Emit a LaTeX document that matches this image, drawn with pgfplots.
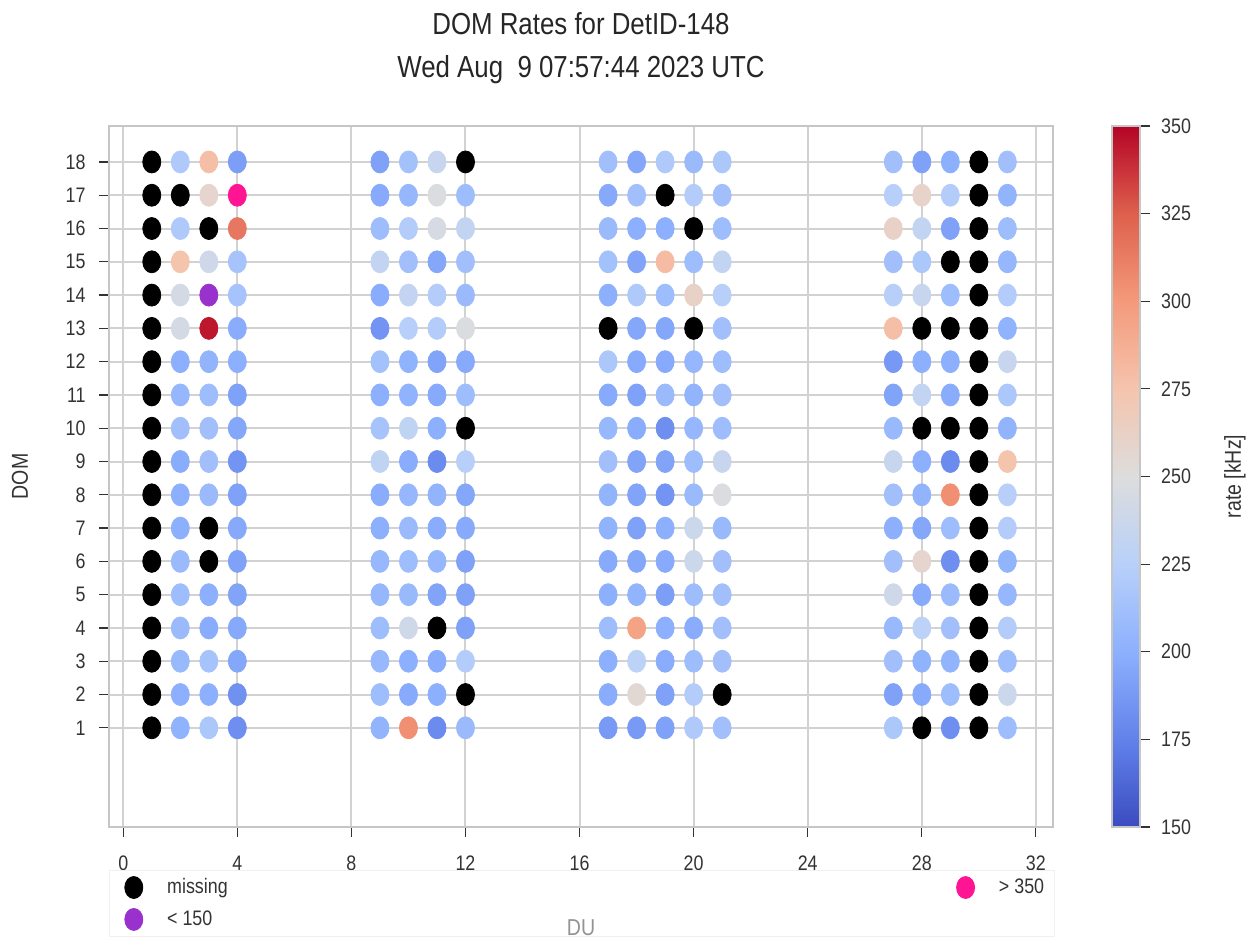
\documentclass[border=0pt]{standalone}
\usepackage{pgfplots}
\pgfplotsset{compat=1.18}
\usepackage{fontspec}
\setmainfont{Liberation Sans}[FakeStretch=0.85]
\definecolor{txt}{HTML}{333333}
\definecolor{dpink}{RGB}{255,20,147}
\definecolor{dpurple}{RGB}{153,50,204}
\pgfplotstableread{
x y v
2 18 220
2 16 220
2 15 275
2 14 243
2 13 243
2 12 200
2 11 205
2 10 212
2 9 198
2 8 200
2 7 200
2 6 208
2 5 210
2 4 208
2 3 207
2 2 200
2 1 202
3 18 278
3 17 258
3 15 240
3 13 345
3 12 203
3 11 210
3 10 212
3 9 212
3 8 208
3 5 200
3 4 198
3 3 215
3 2 200
3 1 218
4 18 190
4 16 315
4 15 215
4 14 215
4 13 198
4 12 200
4 11 192
4 10 195
4 9 185
4 8 192
4 7 196
4 6 192
4 5 193
4 4 196
4 3 195
4 2 183
4 1 182
9 18 192
9 17 197
9 16 210
9 15 232
9 14 198
9 13 185
9 12 213
9 11 200
9 10 215
9 9 230
9 8 198
9 7 200
9 6 206
9 5 205
9 4 210
9 3 206
9 2 210
9 1 203
10 18 213
10 17 205
10 16 222
10 15 212
10 14 232
10 13 225
10 12 202
10 11 202
10 10 230
10 9 198
10 8 205
10 7 208
10 6 210
10 5 207
10 4 240
10 3 200
10 2 197
10 1 305
11 18 235
11 17 248
11 16 245
11 15 195
11 14 222
11 13 222
11 12 193
11 11 197
11 10 200
11 9 180
11 8 203
11 7 198
11 6 205
11 5 193
11 3 198
11 2 200
11 1 180
12 17 210
12 16 232
12 15 212
12 14 208
12 13 248
12 12 197
12 11 210
12 9 225
12 8 195
12 7 197
12 6 192
12 5 192
12 4 192
12 3 222
12 1 208
17 18 212
17 17 196
17 16 208
17 15 213
17 14 200
17 12 218
17 11 197
17 10 206
17 9 212
17 8 203
17 7 202
17 6 197
17 5 200
17 4 210
17 3 200
17 2 198
17 1 188
18 18 195
18 17 212
18 16 200
18 15 193
18 14 220
18 13 195
18 12 197
18 11 192
18 10 198
18 9 193
18 8 193
18 7 192
18 6 195
18 5 203
18 4 295
18 3 228
18 2 255
18 1 188
19 18 220
19 16 200
19 15 280
19 14 210
19 13 195
19 12 197
19 11 208
19 10 182
19 9 193
19 8 185
19 7 200
19 6 197
19 5 190
19 4 200
19 3 198
19 2 192
19 1 192
20 18 208
20 17 222
20 15 210
20 14 262
20 12 205
20 11 203
20 10 205
20 9 210
20 8 208
20 7 238
20 6 238
20 5 210
20 4 198
20 3 210
20 2 222
20 1 220
21 18 218
21 17 212
21 16 210
21 15 232
21 14 225
21 13 212
21 12 210
21 11 212
21 10 210
21 9 235
21 8 248
21 7 207
21 6 212
21 5 212
21 4 212
21 3 212
21 1 212
27 18 212
27 17 225
27 16 262
27 15 212
27 14 225
27 13 278
27 12 187
27 11 193
27 10 207
27 9 235
27 8 212
27 7 200
27 6 212
27 5 240
27 4 207
27 3 212
27 2 192
27 1 218
28 18 192
28 17 260
28 16 232
28 15 218
28 14 235
28 12 200
28 11 232
28 9 200
28 8 203
28 7 195
28 6 258
28 5 197
28 4 228
28 3 202
28 2 197
29 18 200
29 17 222
29 16 192
29 14 210
29 12 200
29 11 198
29 9 180
29 8 305
29 7 210
29 6 182
29 5 208
29 4 212
29 3 203
29 2 210
29 1 182
31 18 212
31 17 203
31 16 210
31 15 205
31 14 222
31 13 202
31 12 235
31 11 218
31 10 203
31 9 275
31 8 225
31 7 222
31 6 203
31 5 205
31 4 222
31 3 210
31 2 238
31 1 210
}\ratestable
\pgfplotstableread{
x y
1 1
1 2
1 3
1 4
1 5
1 6
1 7
1 8
1 9
1 10
1 11
1 12
1 13
1 14
1 15
1 16
1 17
1 18
2 17
3 16
3 7
3 6
11 4
12 18
12 10
12 2
17 13
19 17
20 16
20 13
21 2
28 13
28 10
28 1
29 15
29 13
29 10
30 1
30 2
30 3
30 4
30 5
30 6
30 7
30 8
30 9
30 10
30 11
30 12
30 13
30 14
30 15
30 16
30 17
30 18
}\missingtable
\begin{document}
\begin{tikzpicture}
\useasboundingbox (-54.5pt,-55.5pt) rectangle (569pt,413.5pt);
\node[align=center, font=\fontsize{15.2}{21.5}\selectfont, text=black!85, anchor=south] at (236pt,368pt) {DOM Rates for DetID-148\\Wed Aug\ \ 9 07:57:44 2023 UTC};
\begin{axis}[
  scale only axis, width=472pt, height=350.5pt,
  xmin=-0.5, xmax=32.6, ymin=-1.98, ymax=19.08,
  xtick={0,4,...,32}, ytick={1,...,18},
  tick pos=left, tick align=outside, major tick length=5pt,
  tick style={color=txt, line width=0.6pt},
  grid=major, major grid style={gray!35, line width=1pt},
  axis line style={gray!45, line width=1pt},
  ticklabel style={font=\fontsize{10.5}{12}\selectfont, text=txt},
  xticklabel style={yshift=-6pt},
  yticklabel style={xshift=-3.2pt},
  /pgf/number format/assume math mode=true,
  xlabel={DU}, xlabel style={at={(axis description cs:0.5,-0.144)}, anchor=center, text=gray!85, font=\fontsize{11.5}{13}\selectfont},
  ylabel={DOM}, ylabel style={at={(axis description cs:-0.0943,0.5)}, anchor=center, text=txt, font=\fontsize{11.5}{13}\selectfont},
  colormap={coolwarm}{rgb255(0)=(59,76,192) rgb255(1)=(98,130,234) rgb255(2)=(141,176,254) rgb255(3)=(184,208,249) rgb255(4)=(221,221,221) rgb255(5)=(245,196,173) rgb255(6)=(244,154,123) rgb255(7)=(222,96,77) rgb255(8)=(180,4,38)},
  point meta min=150, point meta max=350,
  colorbar right,
  colorbar style={
    width=14pt, at={(parent axis.north east)}, anchor=north west, xshift=21pt,
    ytick={150,175,...,350}, ytick pos=right, yticklabel pos=right,
    tick align=outside, major tick length=5pt,
    tick style={color=txt, line width=0.6pt},
    yticklabel style={xshift=2pt, font=\fontsize{10.5}{12}\selectfont, text=txt},
    axis line style={gray!45, line width=1pt},
    /pgf/number format/assume math mode=true,
    ylabel={rate [kHz]},
    ylabel style={at={(axis description cs:4.39,0.5)}, anchor=center, text=txt, font=\fontsize{11.5}{13}\selectfont},
  },
  scatter/use mapped color={draw=mapped color, fill=mapped color},
  legend columns=2,
  legend image code/.code={\path (-9pt,0pt) (14.5pt,0pt); \draw[#1] plot coordinates {(0pt,0pt)};},
  legend style={at={(axis description cs:0,0)}, anchor=north west, yshift=-21.5pt,
    draw=gray!12, fill=none, font=\fontsize{10.5}{12}\selectfont, text=txt,
    row sep=3pt, legend cell align=left},
]
\addplot[scatter, only marks, scatter src=explicit, mark=*, mark size=5.5pt, mark options={xscale=0.82}, forget plot] table[x=x, y=y, meta=v] {\ratestable};
\addplot[only marks, mark=*, color=black, mark size=5.5pt, mark options={xscale=0.82}] table[x=x, y=y] {\missingtable};
\addlegendentry{\makebox[388pt][l]{missing}}
\addplot[only marks, mark=*, color=dpink, mark size=5.5pt, mark options={xscale=0.82}] coordinates {(4,17)};
\addlegendentry{> 350}
\addplot[only marks, mark=*, color=dpurple, mark size=5.5pt, mark options={xscale=0.82}] coordinates {(3,14)};
\addlegendentry{< 150}
\end{axis}
\end{tikzpicture}
\end{document}
